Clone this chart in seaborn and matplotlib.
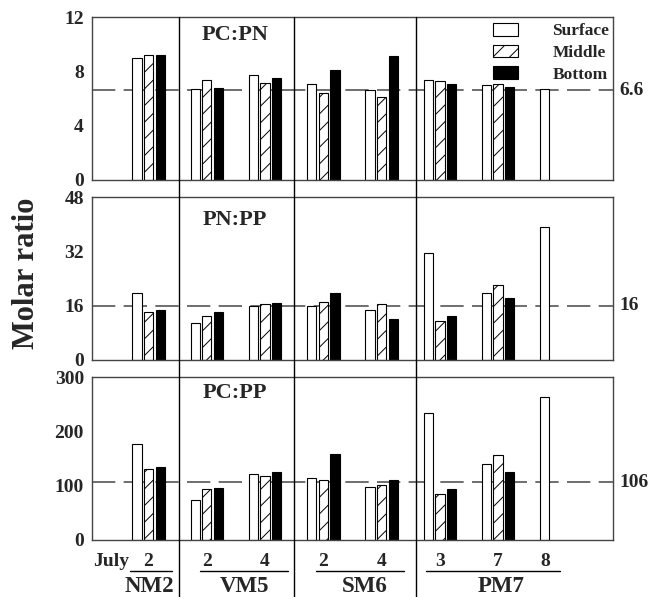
import numpy as np
import pandas as pd
import matplotlib
matplotlib.use('Agg')
import matplotlib.pyplot as plt
import matplotlib.transforms as mtransforms
from matplotlib import font_manager
from matplotlib.lines import Line2D
from matplotlib.patches import Patch
import seaborn as sns

sns.set_style('white')
plt.rcParams['font.family'] = 'serif'
plt.rcParams['font.serif'] = ['Liberation Serif', 'Times New Roman', 'DejaVu Serif']
plt.rcParams['font.weight'] = 'bold'
plt.rcParams['hatch.linewidth'] = 0.7
print(font_manager.findfont(font_manager.FontProperties(family='serif', weight='bold')))

# данные
groups = ['NM2-2', 'VM5-2', 'VM5-4', 'SM6-2', 'SM6-4', 'PM7-3', 'PM7-7', 'PM7-8']
depths = ['Surface', 'Middle', 'Bottom']
day_labels = ['2', '2', '4', '2', '4', '3', '7', '8']

pc_pn_surface = [9.0, 6.7, 7.75, 7.1, 6.6, 7.35, 7.0, 6.7]
pc_pn_middle = [9.2, 7.35, 7.15, 6.4, 6.1, 7.3, 7.08, np.nan]
pc_pn_bottom = [9.2, 6.75, 7.5, 8.1, 9.1, 7.1, 6.88, np.nan]

pn_pp_surface = [19.6, 11.0, 15.9, 15.9, 14.6, 31.6, 19.8, 39.2]
pn_pp_middle = [14.1, 12.9, 16.5, 17.2, 16.6, 11.4, 22.1, np.nan]
pn_pp_bottom = [14.7, 14.2, 16.7, 19.7, 12.1, 13.0, 18.2, np.nan]

pc_pp_surface = [177, 74, 122, 114, 97, 233, 139, 263]
pc_pp_middle = [130, 94, 118, 110, 102, 84, 157, np.nan]
pc_pp_bottom = [135, 96, 125, 159, 111, 93, 125, np.nan]

redfield = [6.6, 16, 106]
titles = ['PC:PN', 'PN:PP', 'PC:PP']
ylims = [12, 48, 300]
yticks = [[0, 4, 8, 12], [0, 16, 32, 48], [0, 100, 200, 300]]

sites = ['NM2', 'VM5', 'SM6', 'PM7']
site_spans = [(-0.32, 0.40), (0.88, 2.39), (2.87, 4.38), (4.76, 7.06)]
site_label_x = [0.02, 1.65, 3.71, 6.05]
separators = [0.525, 2.494, 4.594]


def long_df(surface, middle, bottom):
    rows = []
    for vals, d in zip([surface, middle, bottom], depths):
        for g, v in zip(groups, vals):
            rows.append({'group': g, 'depth': d, 'value': v})
    return pd.DataFrame(rows)


panels = [
    long_df(pc_pn_surface, pc_pn_middle, pc_pn_bottom),
    long_df(pn_pp_surface, pn_pp_middle, pn_pp_bottom),
    long_df(pc_pp_surface, pc_pp_middle, pc_pp_bottom),
]

fig = plt.figure(figsize=(6.61, 5.97), dpi=100)
left, width, height = 0.1396, 0.7877, 0.2730
bottoms = [0.6985, 0.3970, 0.0955]
axes = [fig.add_axes([left, b, width, height]) for b in bottoms]

xmin, xmax = -0.966, 7.97
title_y = [0.89, 0.86, 0.90]

for i, ax in enumerate(axes):
    df = panels[i]
    sns.barplot(data=df, x='group', y='value', hue='depth', order=groups,
                hue_order=depths, palette=['white', 'white', 'black'],
                width=0.6, gap=0.2, errorbar=None, edgecolor='black',
                linewidth=0.8, legend=False, ax=ax)
    for bar in ax.containers[1]:
        bar.set_hatch('//')

    ax.axhline(redfield[i], color='#555555', lw=1.2, dashes=(14, 5), zorder=0.5)
    trans = mtransforms.blended_transform_factory(ax.transAxes, ax.transData)
    ax.text(1.012, redfield[i], f'{redfield[i]:g}', transform=trans,
            ha='left', va='center', fontsize=14, fontweight='bold')

    ax.set_xlim(xmin, xmax)
    ax.set_ylim(0, ylims[i])
    ax.set_yticks(yticks[i])
    ax.set_xticks([])
    ax.set_xlabel('')
    ax.set_ylabel('')
    ax.tick_params(axis='y', direction='in', length=6, width=1, pad=6,
                   labelsize=14, color='#333333')
    for lab in ax.get_yticklabels():
        lab.set_fontweight('bold')
    for sp in ax.spines.values():
        sp.set_color('#444444')
        sp.set_linewidth(1.0)

    ax.text(0.274, title_y[i], titles[i], transform=ax.transAxes,
            ha='center', va='center', fontsize=16, fontweight='bold')

# легенда
handles = [Patch(facecolor='white', edgecolor='black', linewidth=0.8),
           Patch(facecolor='white', edgecolor='black', hatch='//', linewidth=0.8),
           Patch(facecolor='black', edgecolor='black', linewidth=0.8)]
axes[0].legend(handles, depths, loc='upper right', bbox_to_anchor=(1.0, 0.985),
               frameon=False, handlelength=1.4, handleheight=0.75,
               handletextpad=2.0, labelspacing=0.3, borderaxespad=0.1,
               borderpad=0.1, prop={'weight': 'bold', 'size': 12.5})

# вертикальные разделители
ax3 = axes[2]
blend = mtransforms.blended_transform_factory(ax3.transData, fig.transFigure)
top_y = 1 - 17 / 597
for s in separators:
    fig.add_artist(Line2D([s, s], [0.0, top_y], transform=blend,
                          color='black', lw=1.0))

# подписи оси x
fig.text(93 / 661, 1 - 562 / 597, 'July', ha='left', va='center',
         fontsize=14, fontweight='bold')
for k, lab in enumerate(day_labels):
    xpos = k if lab != '8' else k - 0.2
    ax3.text(xpos, 1 - 562 / 597, lab, transform=blend, ha='center',
             va='center', fontsize=14, fontweight='bold')
for name, (a, b), cx in zip(sites, site_spans, site_label_x):
    fig.add_artist(Line2D([a, b], [1 - 571 / 597] * 2, transform=blend,
                          color='black', lw=1.0))
    ax3.text(cx, 1 - 587 / 597, name, transform=blend, ha='center',
             va='center', fontsize=16.5, fontweight='bold')

fig.text(27 / 661, 1 - 273 / 597, 'Molar ratio', rotation=90, ha='center',
         va='center', fontsize=22, fontweight='bold')

fig.savefig('out.png', dpi=100)
